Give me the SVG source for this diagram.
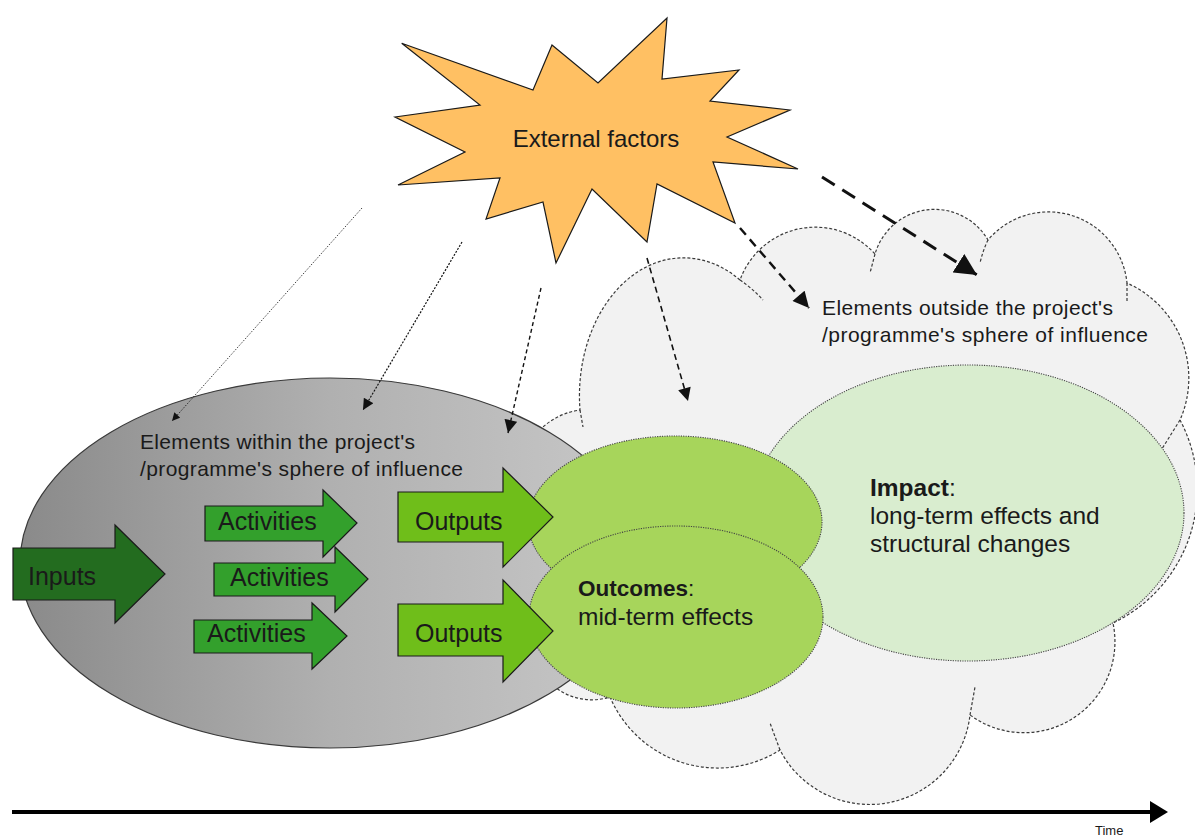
<svg xmlns="http://www.w3.org/2000/svg" width="1195" height="837" viewBox="0 0 1195 837">
<defs>
<style>
text{font-family:"Liberation Sans",Arial,sans-serif;fill:#1a1a1a}
.lbl{font-size:25px}
.sm{font-size:21px}
.big{font-size:24.5px}
.cloudline{fill:none;stroke:#3a3a3a;stroke-width:1.2;stroke-dasharray:3 2}
.blk{stroke:#1a1a1a;stroke-width:1.2;stroke-linejoin:miter}
.dot{stroke:#444;stroke-width:1.1;stroke-dasharray:1.2 1.2}
.conn{fill:none;stroke:#111}
</style>
<linearGradient id="grayGrad" x1="0" y1="0" x2="1" y2="0">
<stop offset="0" stop-color="#8a8a8a"/>
<stop offset="0.5" stop-color="#b0b0b0"/>
<stop offset="1" stop-color="#c8c8c8"/>
</linearGradient>
<marker id="ah1" viewBox="0 0 10 10" refX="10" refY="5" markerWidth="9" markerHeight="8" markerUnits="userSpaceOnUse" orient="auto"><path d="M0,0 L10,5 L0,10 z" fill="#111"/></marker>
<marker id="ah2" viewBox="0 0 10 10" refX="10" refY="5" markerWidth="12" markerHeight="11" markerUnits="userSpaceOnUse" orient="auto"><path d="M0,0 L10,5 L0,10 z" fill="#111"/></marker>
<marker id="ah3" viewBox="0 0 10 10" refX="10" refY="5" markerWidth="14" markerHeight="13" markerUnits="userSpaceOnUse" orient="auto"><path d="M0,0 L10,5 L0,10 z" fill="#111"/></marker>
<marker id="ah4" viewBox="0 0 10 10" refX="10" refY="5" markerWidth="17" markerHeight="16" markerUnits="userSpaceOnUse" orient="auto"><path d="M0,0 L10,5 L0,10 z" fill="#111"/></marker>
<marker id="ah5" viewBox="0 0 10 10" refX="10" refY="5" markerWidth="22" markerHeight="22" markerUnits="userSpaceOnUse" orient="auto"><path d="M0,0 L10,5 L0,10 z" fill="#111"/></marker>
</defs>
<rect width="1195" height="837" fill="#ffffff"/>

<g id="cloud">
<path d="M520,470 A70 70 0 0 1 580,410 A104 138 0 0 1 740,280 A80 80 0 0 1 875,254 A62 62 0 0 1 988,240 A79 79 0 0 1 1127,283 A104 104 0 0 1 1180,420 A148 148 0 0 1 1113,623 A91 91 0 0 1 970,715 A101 101 0 0 1 780,750 A117 117 0 0 1 610,697 A60 60 0 0 1 540,670 Z" fill="#f2f2f2" stroke="#3a3a3a" stroke-width="1.2" stroke-dasharray="3 2"/>
<path class="cloudline" d="M740,280 Q752,288 763,300 M580,410 L583,427 M875,254 L870,273 M988,240 Q983,250 980,263 M1127,283 L1127,301 M1180,420 L1160,452 M970,715 L975,687 M780,750 L770,723"/>
<text class="sm" x="822" y="315" textLength="291" lengthAdjust="spacing">Elements outside the project's</text>
<text class="sm" x="822" y="342" textLength="326" lengthAdjust="spacing">/programme's sphere of influence</text>
</g>

<g id="within">
<ellipse cx="330" cy="563" rx="310" ry="185" fill="url(#grayGrad)" stroke="#3a3a3a" stroke-width="1.2"/>
<text class="sm" x="140" y="449" textLength="275" lengthAdjust="spacing">Elements within the project's</text>
<text class="sm" x="140" y="476" textLength="323" lengthAdjust="spacing">/programme's sphere of influence</text>
</g>

<g id="impact">
<ellipse cx="968" cy="513" rx="216" ry="148" fill="#d9edcf" class="dot"/>
<text class="big" x="870" y="496"><tspan font-weight="bold">Impact</tspan>:</text>
<text class="big" x="870" y="524">long-term effects and</text>
<text class="big" x="870" y="552">structural changes</text>
</g>

<g id="outcomes-upper">
<ellipse cx="675" cy="522" rx="147" ry="86" fill="#a7d55b" class="dot"/>
</g>
<g id="outcomes">
<ellipse cx="676" cy="617" rx="147" ry="91" fill="#a7d55b" class="dot"/>
<text x="578" y="596" font-size="22.5"><tspan font-weight="bold">Outcomes</tspan>:</text>
<text class="big" x="578" y="625">mid-term effects</text>
</g>

<g id="connectors">
<line class="conn" x1="362" y1="208" x2="172" y2="421" stroke-width="0.8" stroke-dasharray="1.5 1.5" marker-end="url(#ah1)"/>
<line class="conn" x1="462" y1="242" x2="363" y2="410" stroke-width="1.2" stroke-dasharray="2 1.5" marker-end="url(#ah2)"/>
<line class="conn" x1="541" y1="288" x2="508" y2="433" stroke-width="1.4" stroke-dasharray="4 3" marker-end="url(#ah3)"/>
<line class="conn" x1="647" y1="258" x2="688" y2="401" stroke-width="1.6" stroke-dasharray="6 4" marker-end="url(#ah3)"/>
<line class="conn" x1="740" y1="228" x2="809" y2="308" stroke-width="2.4" stroke-dasharray="9 6" marker-end="url(#ah4)"/>
<line class="conn" x1="822" y1="177" x2="977" y2="275" stroke-width="3" stroke-dasharray="15 9" marker-end="url(#ah5)"/>
</g>

<g id="inputs">
<path class="blk" d="M13,548 L115,548 L115,525 L165,574 L115,623 L115,600 L13,600 Z" fill="#236c1f"/>
<text class="lbl" x="28" y="585">Inputs</text>
</g>
<g id="activities1">
<path class="blk" d="M205,506 L323,506 L323,490 L357,523 L323,557 L323,541 L205,541 Z" fill="#33a02c"/>
<text class="lbl" x="218" y="530">Activities</text>
</g>
<g id="activities2">
<path class="blk" d="M214,563 L335,563 L335,547 L368,579 L335,612 L335,596 L214,596 Z" fill="#33a02c"/>
<text class="lbl" x="230" y="586">Activities</text>
</g>
<g id="activities3">
<path class="blk" d="M194,620 L312,620 L312,603 L347,636 L312,669 L312,653 L194,653 Z" fill="#33a02c"/>
<text class="lbl" x="207" y="642">Activities</text>
</g>
<g id="outputs1">
<path class="blk" d="M398,492 L503,492 L503,468 L553,517 L503,567 L503,542 L398,542 Z" fill="#6fbe1a"/>
<text class="lbl" x="415" y="530">Outputs</text>
</g>
<g id="outputs2">
<path class="blk" d="M398,604 L503,604 L503,580 L553,631 L503,682 L503,656 L398,656 Z" fill="#6fbe1a"/>
<text class="lbl" x="415" y="642">Outputs</text>
</g>

<g id="external">
<polygon points="401.7,43.3 533,90 552,45 598,83 667,18 662,79 739,70 710,101 790,110 727,137 798,169 713,162 735,223 657,184 647,242 592,189 556,263 543,202 486,219 500,178 398,185 465,152 395,117 480,105" fill="#ffc063" stroke="#1a1a1a" stroke-width="1.2" stroke-linejoin="miter"/>
<text x="596" y="147" font-size="24" text-anchor="middle">External factors</text>
</g>

<g id="time">
<line x1="12" y1="812" x2="1152" y2="812" stroke="#000" stroke-width="4"/>
<polygon points="1150,801 1168,812 1150,823" fill="#000"/>
<text x="1095" y="835" font-size="13">Time</text>
</g>
</svg>
